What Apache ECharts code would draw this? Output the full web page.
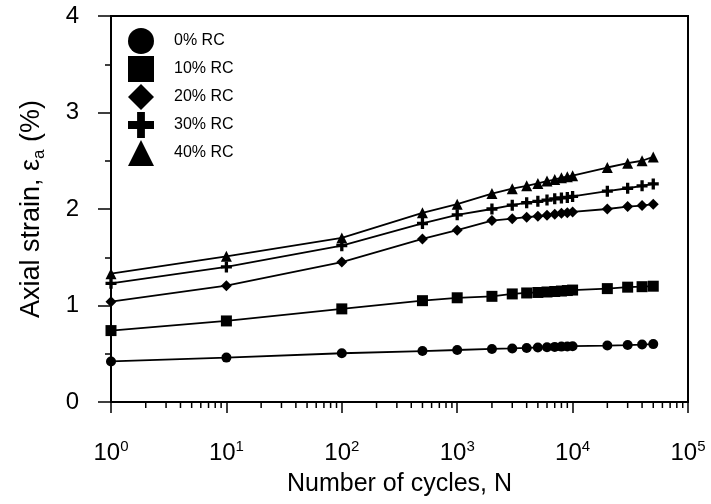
<!DOCTYPE html>
<html style="height: 100%; width:100%">
<head>
    <meta charset="utf-8">
    <script src="https://cdn.jsdelivr.net/npm/echarts@6/dist/echarts.min.js"></script>
</head>
<body style="height: 100%; width: 100%; margin: 0; background:#fff;">
<div id="container" style="width:711px;height:504px"></div>
<script type="text/javascript">
    // number of cycles
    var cycles = [1, 10, 100, 500, 1000, 2000, 3000, 4000, 5000, 6000, 7000, 8000, 9000, 10000, 20000, 30000, 40000, 50000];
    // axial strain (%) per recycled-concrete content
    var rc0  = [0.42, 0.46, 0.505, 0.528, 0.539, 0.55, 0.555, 0.56, 0.565, 0.568, 0.571, 0.574, 0.576, 0.578, 0.585, 0.59, 0.595, 0.60];
    var rc10 = [0.74, 0.84, 0.965, 1.05, 1.08, 1.095, 1.12, 1.13, 1.135, 1.14, 1.145, 1.15, 1.155, 1.16, 1.175, 1.19, 1.195, 1.20];
    var rc20 = [1.04, 1.205, 1.45, 1.69, 1.78, 1.88, 1.90, 1.915, 1.925, 1.935, 1.945, 1.955, 1.96, 1.97, 2.0, 2.025, 2.035, 2.05];
    var rc30 = [1.23, 1.40, 1.62, 1.85, 1.94, 2.0, 2.04, 2.065, 2.08, 2.093, 2.105, 2.115, 2.12, 2.13, 2.185, 2.215, 2.24, 2.26];
    var rc40 = [1.33, 1.51, 1.70, 1.96, 2.05, 2.16, 2.21, 2.24, 2.265, 2.29, 2.305, 2.325, 2.335, 2.345, 2.43, 2.475, 2.50, 2.54];
    var names = ["0% RC", "10% RC", "20% RC", "30% RC", "40% RC"];
    // minor ticks on the log axis
    var minorMult = [2, 3, 4, 5, 6, 7, 8, 9];
    var decades = [1, 10, 100, 1000, 10000];

    var plus = "path://M35,0H65V35H100V65H65V100H35V65H0V35H35Z";
    var symbols = ["circle", "rect", "diamond", plus, "triangle"];
    var font = "Liberation Sans, Arial, sans-serif";

    var minorTicks = [];
    decades.forEach(function (d) {
        minorMult.forEach(function (m) { minorTicks.push([d * m, 0]); });
    });

    function pairs(ys) {
        return cycles.map(function (c, i) { return [c, ys[i]]; });
    }

    function lineSeries(name, ys, symbol, size) {
        return {
            name: name,
            type: "line",
            data: pairs(ys),
            symbol: symbol,
            symbolSize: size,
            showSymbol: true,
            color: "#000",
            itemStyle: {color: "#000"},
            lineStyle: {color: "#000", width: 1.8}
        };
    }

    var myChart = echarts.init(document.getElementById("container"));

    var option = {
        animation: false,
        backgroundColor: "#fff",
        textStyle: {fontFamily: font, color: "#000"},
        grid: {
            left: 111, right: 23, top: 16, bottom: 102,
            containLabel: false,
            outerBoundsMode: "none",
            show: true, borderColor: "#000", borderWidth: 2
        },
        legend: {
            orient: "vertical",
            left: 128,
            top: 28,
            padding: 0,
            itemWidth: 26,
            itemHeight: 26,
            itemGap: 2,
            data: names.map(function (n, i) { return {name: n, icon: symbols[i]}; }),
            textStyle: {fontSize: 16, color: "#000", fontFamily: font, padding: [0, 0, 0, 15]}
        },
        xAxis: {
            type: "log",
            logBase: 10,
            min: 1,
            max: 100000,
            name: "Number of cycles, N",
            nameLocation: "middle",
            nameGap: 70,
            nameTextStyle: {fontSize: 25, color: "#000", fontFamily: font},
            axisLine: {onZero: false, lineStyle: {color: "#000", width: 2}},
            axisTick: {length: 11, lineStyle: {color: "#000", width: 1.5}},
            splitLine: {show: false},
            axisLabel: {
                margin: 37,
                color: "#000",
                formatter: function (v) {
                    var e = Math.round(Math.log(v) / Math.LN10);
                    return "{b|10}{s|" + e + "}";
                },
                rich: {
                    b: {fontSize: 24, lineHeight: 28, fontFamily: font, color: "#000"},
                    s: {fontSize: 15, verticalAlign: "top", fontFamily: font, color: "#000"}
                }
            }
        },
        yAxis: {
            type: "value",
            min: 0,
            max: 4,
            interval: 1,
            name: "Axial strain, ε{a|a} (%)",
            nameLocation: "middle",
            nameGap: 63,
            nameTextStyle: {
                fontSize: 27, color: "#000", fontFamily: font, lineHeight: 32,
                rich: {a: {fontSize: 17, verticalAlign: "bottom", fontFamily: font, color: "#000"}}
            },
            axisLine: {show: true, lineStyle: {color: "#000", width: 2}},
            axisTick: {length: 13, lineStyle: {color: "#000", width: 1.5}},
            minorTick: {show: true, splitNumber: 2, length: 6, lineStyle: {color: "#000", width: 1.5}},
            splitLine: {show: false},
            axisLabel: {margin: 32, fontSize: 24, color: "#000", fontFamily: font}
        },
        series: [
            {
                type: "custom",
                data: minorTicks,
                clip: false,
                silent: true,
                renderItem: function (params, api) {
                    var p = api.coord([api.value(0), 0]);
                    return {
                        type: "line",
                        shape: {x1: p[0], y1: p[1], x2: p[0], y2: p[1] + 6},
                        style: {stroke: "#000", lineWidth: 1.5}
                    };
                }
            },
            lineSeries(names[0], rc0, symbols[0], 10),
            lineSeries(names[1], rc10, symbols[1], 11),
            lineSeries(names[2], rc20, symbols[2], 11),
            lineSeries(names[3], rc30, symbols[3], 11),
            lineSeries(names[4], rc40, symbols[4], 11)
        ]
    };
    myChart.setOption(option);
</script>
</body>
</html>
